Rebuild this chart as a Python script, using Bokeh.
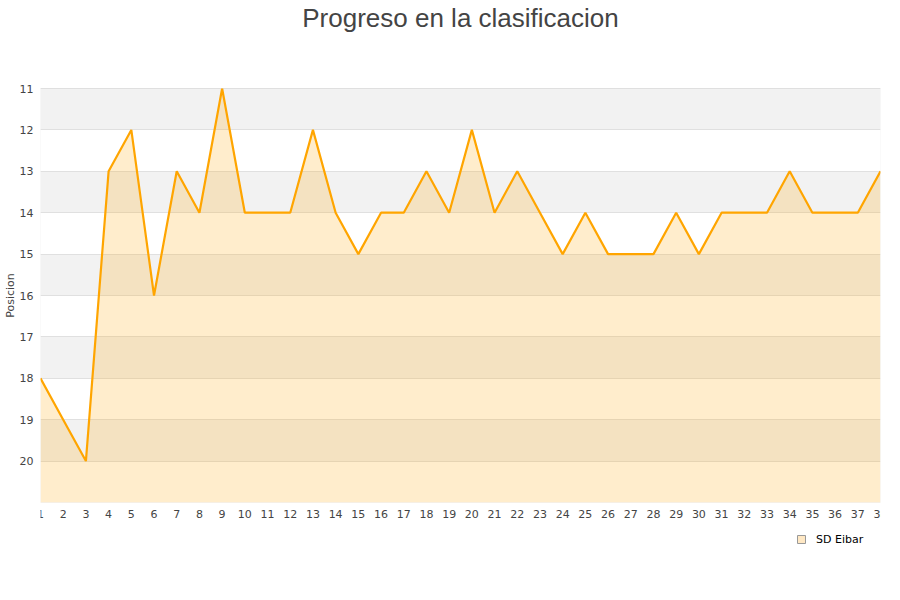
from bokeh.plotting import figure
from bokeh.models import (Range1d, FixedTicker, Legend, LegendItem, ColumnDataSource,
                          BoxAnnotation, Title)
from bokeh.embed import file_html
from bokeh.resources import INLINE

jornadas = list(range(1, 39))
posiciones = [18, 19, 20, 13, 12, 16, 13, 14, 11, 14, 14, 14, 12, 14, 15, 14, 14, 13, 14, 12,
              14, 13, 14, 15, 14, 15, 15, 15, 14, 15, 14, 14, 14, 13, 14, 14, 14, 13]
y_ticks = list(range(11, 21))
team = "SD Eibar"
title_text = "Progreso en la clasificacion"
y_bottom = 21
y_top = 11
pad = 1.16  # extra range above and below the plot area (room for legend)

base = [y_bottom] * len(jornadas)
src = ColumnDataSource(dict(x=jornadas, y=posiciones, base=base))

p = figure(output_backend="svg", toolbar_location=None,
           frame_width=840, frame_height=510,
           x_range=Range1d(jornadas[0], jornadas[-1]),
           y_range=Range1d(y_bottom + pad, y_top - pad),
           min_border_left=32, min_border_right=12, min_border_top=0, min_border_bottom=10,
           title=None)

spacer = Title(text=" ", standoff=0, text_font="Liberation Sans", text_font_size="5px")
p.add_layout(spacer, "above")
main_title = Title(text=title_text, standoff=0, text_font="Liberation Sans",
                   text_font_size="26px", text_font_style="normal", text_color="#444444",
                   align="center")
p.add_layout(main_title, "above")

p.outline_line_color = None
p.background_fill_color = "white"

for t in y_ticks[::2]:
    p.add_layout(BoxAnnotation(top=t, bottom=t + 1, fill_color="#f2f2f2", fill_alpha=1.0,
                               line_color=None, level="image"))
p.add_layout(BoxAnnotation(top=y_top, bottom=y_bottom, left=jornadas[0], right=jornadas[-1],
                           fill_alpha=0, line_color="#dddddd", line_width=1, level="overlay"))

p.xgrid.grid_line_color = None
p.ygrid.grid_line_color = "#e0e0e0"

p.xaxis.ticker = FixedTicker(ticks=jornadas)
p.yaxis.ticker = FixedTicker(ticks=y_ticks)
for ax in (p.xaxis[0], p.yaxis[0]):
    ax.axis_line_color = None
    ax.major_tick_line_color = None
    ax.minor_tick_line_color = None
    ax.major_tick_out = 0
    ax.major_tick_in = 0
    ax.major_label_text_font = "DejaVu Sans"
    ax.major_label_text_font_size = "11px"
    ax.major_label_text_color = "#444444"
p.xaxis.fixed_location = y_bottom
p.xaxis.major_label_standoff = 8
p.yaxis.major_label_standoff = 7
p.yaxis.axis_label = "Posicion"
p.yaxis.axis_label_text_font = "DejaVu Sans"
p.yaxis.axis_label_text_font_size = "11px"
p.yaxis.axis_label_text_font_style = "normal"
p.yaxis.axis_label_text_color = "#444444"
p.yaxis.axis_label_standoff = 0

area = p.varea(x="x", y1="y", y2="base", source=src, fill_color="#FFA500", fill_alpha=0.2)
line = p.line(x="x", y="y", source=src, line_color="#FFA500", line_width=2.2)
sq = p.scatter(x="x", y="y", source=src, marker="square", size=0,
               fill_color="#ffe8c4", line_color="#999999", line_width=1, line_alpha=1)

legend = Legend(items=[LegendItem(label=team, renderers=[sq], index=0)], location=(751, 1),
                orientation="horizontal", border_line_color=None, background_fill_alpha=0,
                label_text_font="DejaVu Sans", label_text_font_size="11px",
                label_text_color="#000000", glyph_width=20, glyph_height=20,
                margin=0, padding=0, spacing=0, label_standoff=5)
p.add_layout(legend, "center")

open("out.html", "w").write(file_html(p, INLINE))
